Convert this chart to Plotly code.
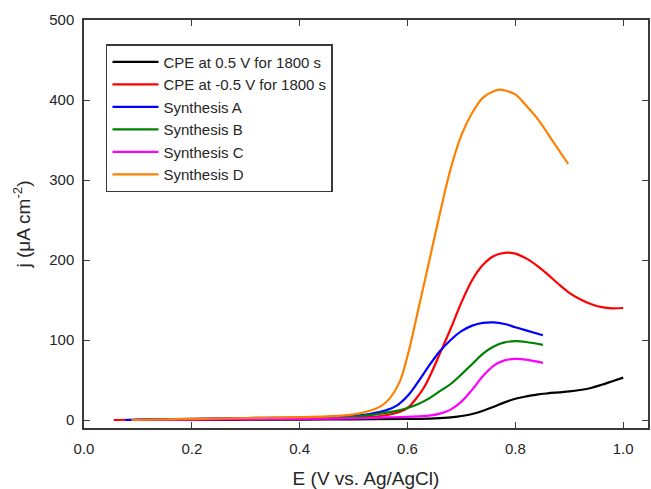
import plotly.graph_objects as go

# Linear sweep voltammetry: current density vs. potential
black_x = [0.09, 0.2, 0.3, 0.4, 0.5, 0.6, 0.65, 0.68, 0.70, 0.72, 0.74, 0.76, 0.78, 0.80, 0.82, 0.84,
           0.86, 0.88, 0.90, 0.92, 0.94, 0.96, 0.98, 1.0]
black_y = [0, 0.2, 0.3, 0.5, 0.8, 1.3, 2, 3.2, 5, 7.5, 11.5, 16.5, 22, 26.5, 29.5, 31.8,
           33.3, 34.5, 35.7, 37.5, 40, 44, 48.5, 53]

red_x = [0.055, 0.1, 0.2, 0.3, 0.4, 0.5, 0.55, 0.58, 0.60, 0.615, 0.63, 0.645, 0.66, 0.68, 0.70, 0.72,
         0.74, 0.76, 0.78, 0.80, 0.82, 0.84, 0.86, 0.88, 0.90, 0.92, 0.94, 0.96, 0.98, 1.0]
red_y = [0, 0.3, 0.8, 1.2, 1.8, 3, 5, 9, 15, 26, 40, 60, 83, 114, 147, 175,
         194, 205, 209, 208, 202, 193, 182, 170, 159, 151, 145, 141, 139.5, 140]

blue_x = [0.076, 0.1, 0.2, 0.3, 0.4, 0.45, 0.5, 0.53, 0.56, 0.58, 0.60, 0.62, 0.64, 0.66, 0.68, 0.70,
          0.72, 0.74, 0.76, 0.78, 0.80, 0.82, 0.851]
blue_y = [0, 0.5, 1.5, 2.5, 3, 3.5, 5, 7.5, 12, 18, 30, 48, 68, 86, 100, 111,
          118, 121.5, 122, 120, 116, 112, 106]

green_x = [0.09, 0.2, 0.3, 0.4, 0.5, 0.55, 0.58, 0.60, 0.62, 0.64, 0.66, 0.68, 0.70, 0.72, 0.74,
           0.76, 0.78, 0.80, 0.82, 0.851]
green_y = [0, 1, 1.5, 2.5, 4, 8, 11.5, 15, 20, 27, 36, 45, 57, 70, 83,
           92, 97, 98.5, 97.5, 94]

magenta_x = [0.09, 0.3, 0.5, 0.56, 0.60, 0.64, 0.66, 0.68, 0.70, 0.72, 0.74, 0.76, 0.78, 0.80,
             0.82, 0.851]
magenta_y = [0, 1, 2, 3.2, 4, 5.5, 8, 13, 23, 38, 55, 68, 74.5, 76.5,
             75.5, 71.5]

orange_x = [0.088, 0.2, 0.3, 0.4, 0.45, 0.5, 0.53, 0.55, 0.567, 0.585, 0.60, 0.62, 0.64, 0.66, 0.68,
            0.70, 0.72, 0.74, 0.76, 0.77, 0.78, 0.80, 0.82, 0.844, 0.869, 0.898]
orange_y = [0, 1.5, 2.5, 3.5, 4.5, 7, 11.5, 17, 27, 47, 80, 138, 198, 258, 314,
            356, 384, 403, 411, 413, 412, 407, 393, 374, 349, 320]

series = [
    ("CPE at 0.5 V for 1800 s", black_x, black_y, "#000000"),
    ("CPE at -0.5 V for 1800 s", red_x, red_y, "#FF0000"),
    ("Synthesis A", blue_x, blue_y, "#0000FF"),
    ("Synthesis B", green_x, green_y, "#008000"),
    ("Synthesis C", magenta_x, magenta_y, "#FF00FF"),
    ("Synthesis D", orange_x, orange_y, "#FF8000"),
]

x_ticks = [0.0, 0.2, 0.4, 0.6, 0.8, 1.0]
y_ticks = [0, 100, 200, 300, 400, 500]

FONT = "Liberation Sans, Arial, sans-serif"
INK = "#262626"
FRAME = "#3a3a3a"

fig = go.Figure()
for name, xs, ys, color in series:
    fig.add_trace(go.Scatter(
        x=xs, y=ys, name=name, mode="lines",
        line=dict(color=color, width=2.2, shape="spline", smoothing=1.0),
    ))

axis_common = dict(
    showline=True, linecolor=FRAME, linewidth=1.5, mirror="ticks",
    ticks="inside", ticklen=6, tickwidth=1.2, tickcolor=FRAME,
    showgrid=False, zeroline=False,
    tickfont=dict(family=FONT, size=15, color=INK),
)

fig.update_layout(
    width=651, height=489,
    margin=dict(l=84, r=1, t=20, b=61),
    paper_bgcolor="white", plot_bgcolor="white",
    font=dict(family=FONT, color=INK),
    xaxis=dict(
        range=[0, 1.046], tickvals=x_ticks, ticktext=[f"{v:.1f}" for v in x_ticks],
        ticklabelstandoff=6,
        title=dict(text="E (V vs. Ag/AgCl)", font=dict(family=FONT, size=19, color=INK), standoff=17),
        **axis_common,
    ),
    yaxis=dict(
        range=[-10, 500], tickvals=y_ticks, ticktext=[str(v) for v in y_ticks],
        ticklabelstandoff=5,
        title=dict(text="j (μA cm<sup>-2</sup>)", font=dict(family=FONT, size=19, color=INK), standoff=14),
        **axis_common,
    ),
    legend=dict(
        x=0.039, y=0.941, xanchor="left", yanchor="top",
        bgcolor="white", bordercolor=FRAME, borderwidth=1.5,
        font=dict(family=FONT, size=15, color=INK),
        itemwidth=46, tracegroupgap=0,
    ),
    showlegend=True,
)

fig.write_html("out.html")
